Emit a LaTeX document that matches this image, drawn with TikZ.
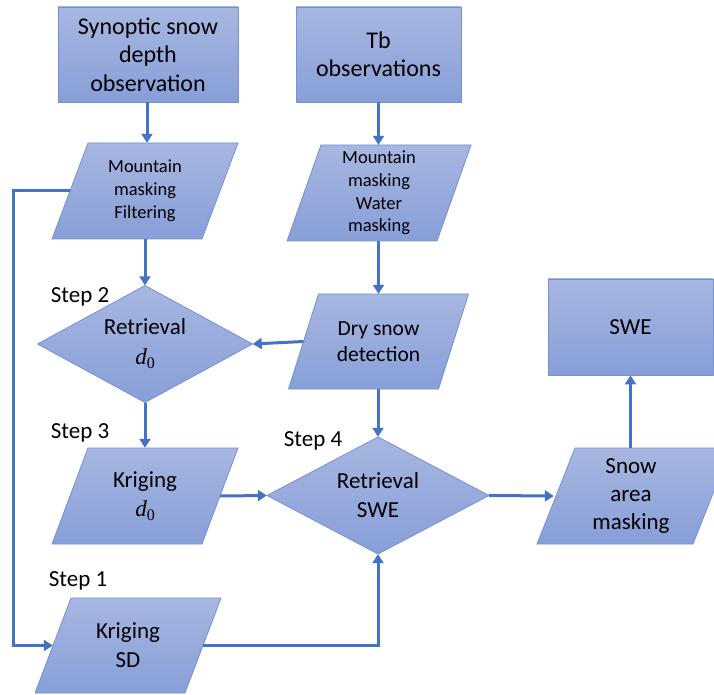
\documentclass[tikz,border=0pt]{standalone}
\usepackage{fontspec}
\setmainfont{Carlito}
\newfontfamily\serifmath{Liberation Serif}
\usetikzlibrary{calc,arrows.meta}
\definecolor{edgecol}{HTML}{7393D3}
\definecolor{ftop}{HTML}{A8B7E1}
\definecolor{fbot}{HTML}{879ED8}
\definecolor{arr}{HTML}{4472C4}
\newcommand\dzero{{\serifmath\itshape d}\raisebox{-4pt}{\serifmath\fontsize{16}{16}\selectfont 0}}
\tikzset{
  shapefill/.style={top color=ftop,bottom color=fbot,draw=edgecol,line width=0.8pt},
  txt/.style={align=center,inner sep=0pt,text=black},
  conn/.style={draw=arr,line width=3pt,-{Triangle[length=9pt,width=11pt]}},
  plainline/.style={draw=arr,line width=3pt},
  steplabel/.style={font=\fontsize{23}{28}\selectfont,inner sep=0pt},
  bigfont/.style={font=\fontsize{24}{28.5}\selectfont},
  midfont/.style={font=\fontsize{23}{29}\selectfont},
}
% parallelogram: name, x, y, half width, half height, slant, style, text
\newcommand\mkpara[8]{%
  \path[shapefill] (#2-#4+#6,#3+#5) -- (#2+#4+#6,#3+#5) -- (#2+#4-#6,#3-#5) -- (#2-#4-#6,#3-#5) -- cycle;
  \node[txt,#7,minimum width=2*#4pt,minimum height=2*#5pt] (#1) at (#2,#3) {#8};}
% diamond: name, x, y, half width, half height, text
\newcommand\mkdiam[6]{%
  \path[shapefill] (#2,#3+#5) -- (#2+#4,#3) -- (#2,#3-#5) -- (#2-#4,#3) -- cycle;
  \node[txt,midfont,minimum width=2*#4pt,minimum height=2*#5pt] (#1) at (#2,#3) {#6};}
\begin{document}
\begin{tikzpicture}[x=1pt,y=1pt]
\useasboundingbox (0,0) rectangle (714,694);
\clip (0,0) rectangle (714,694);
\fill[white] (0,0) rectangle (714,694);

% top boxes
\node[shapefill,txt,bigfont,minimum width=180pt,minimum height=95pt] (A) at (148,639.5) {Synoptic snow\\depth\\observation};
\node[shapefill,txt,bigfont,minimum width=165pt,minimum height=95pt] (B) at (378.5,639.5) {Tb\\observations};

% parallelograms
\mkpara{P1}{145}{503}{75}{48}{18}{font=\fontsize{18.5}{23}\selectfont}{Mountain\\masking\\Filtering}
\mkpara{P2}{379}{501}{75}{48}{17}{font=\fontsize{18.5}{22.6}\selectfont}{Mountain\\masking\\Water\\masking}
\mkpara{P3}{378.5}{352.5}{75}{47.5}{15}{font=\fontsize{21.5}{26}\selectfont}{Dry snow\\detection}
\mkpara{P4}{145}{198}{75}{48}{18}{midfont}{Kriging\\\dzero}
\mkpara{P5}{634}{198}{78}{48}{19}{font=\fontsize{23}{28}\selectfont}{\hspace*{-6pt}Snow\\\hspace*{-6pt}area\\\hspace*{-6pt}masking}
\mkpara{P6}{128}{48.5}{75}{47.5}{18}{midfont}{Kriging\\SD}

% diamonds
\mkdiam{D1}{145}{350}{107.5}{58.5}{Retrieval\\[1pt]\dzero}
\mkdiam{D2}{378}{198.5}{111}{58.5}{Retrieval\\SWE}

% result box
\node[shapefill,txt,midfont,minimum width=165pt,minimum height=96pt] (S) at (630.5,367) {SWE};

% step labels
\node[steplabel] (s2) at (80,397) {Step 2};
\node[steplabel] (s3) at (80,261) {Step 3};
\node[steplabel] (s4) at (313,253) {Step 4};
\node[steplabel] (s1) at (78,113) {Step 1};

% connectors
\draw[conn] (147,0 |- A.south) -- (147,0 |- P1.north);
\draw[conn] (B.south) -- (B.south |- P2.north);
\draw[conn] (P1.south) -- (D1.north);
\draw[conn] (P2.south -| B.south) -- (B.south |- P3.north);
\draw[conn] (P3.west) -- (D1.east);
\draw[conn] (D1.south) -- (P4.north);
\draw[conn] (P3.south -| D2.north) -- (D2.north);
\draw[conn] (P4.east) -- (D2.west);
\draw[conn] (D2.east) -- ($(P5.west)+(-2,0)$);
\draw[conn] (S.south |- P5.north) -- (S.south);
\coordinate (lt) at (13,503);
\coordinate (lb) at (13,48.5);
\draw[conn] (P1.west) -- (lt) -- (lb) -- (P6.west);
\draw[conn] (P6.east) -- (P6.east -| D2.south) -- (D2.south);
\end{tikzpicture}
\end{document}
